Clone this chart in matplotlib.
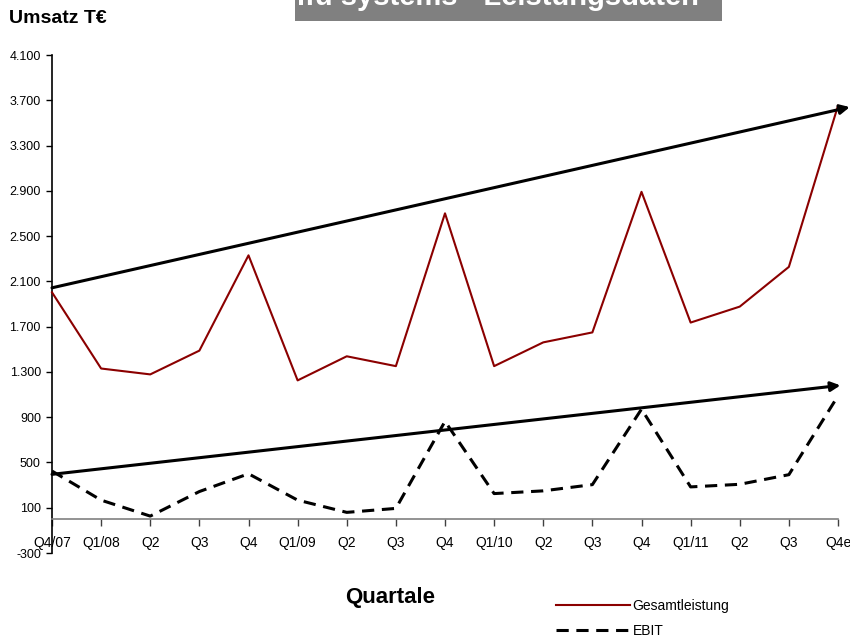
import matplotlib
matplotlib.use("Agg")
import matplotlib.pyplot as plt
from matplotlib.patches import Rectangle

plt.rcParams['font.family'] = ['Liberation Sans', 'DejaVu Sans']

categories = ["Q4/07", "Q1/08", "Q2", "Q3", "Q4", "Q1/09", "Q2", "Q3", "Q4",
              "Q1/10", "Q2", "Q3", "Q4", "Q1/11", "Q2", "Q3", "Q4e"]
gesamtleistung = [2003, 1330, 1278, 1488, 2330, 1225, 1438, 1351, 2701,
                  1351, 1561, 1649, 2891, 1736, 1877, 2228, 3652]
ebit = [424, 167, 26, 243, 400, 167, 59, 94, 863,
        225, 249, 304, 971, 284, 307, 392, 1088]
trend_upper = [2043, 3640]
trend_lower = [395, 1181]
trend_upper_x = [0, 16.24]
trend_lower_x = [0, 16.05]
yticks = [-300, 100, 500, 900, 1300, 1700, 2100, 2500, 2900, 3300, 3700, 4100]

fig = plt.figure(figsize=(8.5, 6.4), dpi=100)
ax = fig.add_axes([52/850, 87/640, 786/850, 498/640])
x = list(range(len(categories)))

ax.plot(x, gesamtleistung, color='#8B0000', lw=1.5, label='Gesamtleistung', clip_on=False, zorder=3)
ax.plot(x, ebit, color='black', lw=2.2, dashes=(4, 2.5), label='EBIT', clip_on=False, zorder=3)

for xs, ys in [(trend_upper_x, trend_upper), (trend_lower_x, trend_lower)]:
    ax.annotate('', xy=(xs[1], ys[1]), xytext=(xs[0], ys[0]),
                arrowprops=dict(arrowstyle='-|>', color='black', lw=2.2,
                                mutation_scale=14, shrinkA=0, shrinkB=0),
                annotation_clip=False, zorder=4)

ax.set_xlim(0, 16)
ax.set_ylim(-300, 4100)
ax.set_yticks(yticks)
ax.set_yticklabels([f"{v:,}".replace(",", ".") for v in yticks], fontsize=9)
ax.set_xticks(x)
ax.set_xticklabels(categories, fontsize=9)

for s in ['top', 'right']:
    ax.spines[s].set_visible(False)
ax.spines['left'].set_linewidth(1.2)
ax.spines['bottom'].set_position(('data', 0))
ax.spines['bottom'].set_color('#808080')
ax.spines['bottom'].set_linewidth(1.2)
ax.tick_params(axis='y', direction='out', length=4, width=1, pad=4)
ax.tick_params(axis='x', direction='out', length=5, width=1, pad=7, color='#404040')

# Title texts
fig.text(9/850, 1 - 23/640, "Umsatz T€", fontsize=14, fontweight='bold', ha='left', va='baseline')
fig.patches.append(Rectangle((295/850, 1 - 21/640), 427/850, 21/640, transform=fig.transFigure,
                             facecolor='#808080', edgecolor='none', zorder=0))
fig.text(498/850, 1 - 5/640, "ifu systems - Leistungsdaten", fontsize=21, fontweight='bold',
         color='white', ha='center', va='baseline')
fig.text(390/850, 1 - 603/640, "Quartale", fontsize=16, fontweight='bold', ha='center', va='baseline')

ax.legend(loc='upper left', bbox_to_anchor=(556/850, 1 - 599/640), bbox_transform=fig.transFigure,
          frameon=False, fontsize=10, handlelength=5.3, handletextpad=0.2, labelspacing=0.8,
          borderaxespad=0, borderpad=0)

fig.savefig("out.png", dpi=100)
